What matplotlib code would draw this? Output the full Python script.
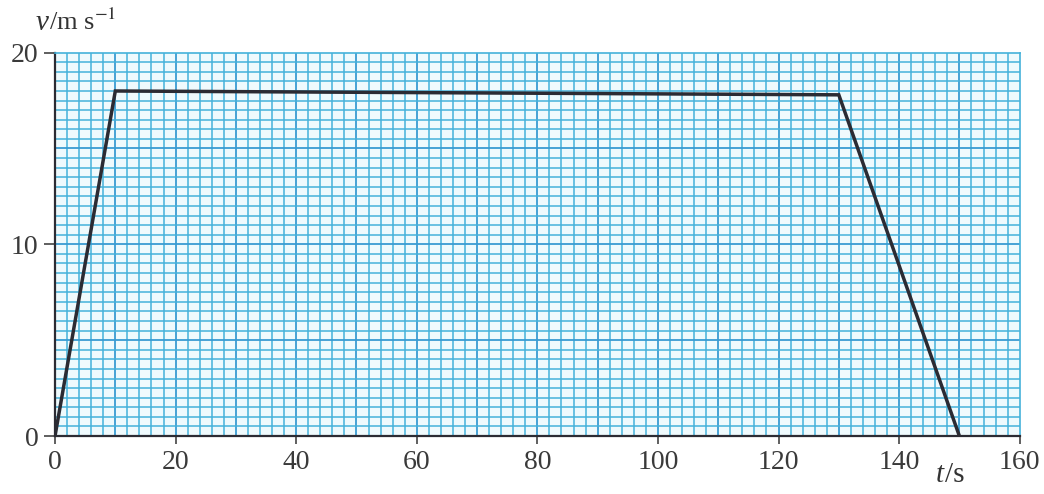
import numpy as np
import matplotlib.pyplot as plt

# velocity-time data
t_points = [0, 10, 130, 150]
v_points = [0, 18, 17.8, 0]

x_ticks = [0, 20, 40, 60, 80, 100, 120, 140, 160]
y_ticks = [0, 10, 20]

plt.rcParams['font.family'] = ['Liberation Serif', 'DejaVu Serif']
plt.rcParams['mathtext.fontset'] = 'stix'

fig = plt.figure(figsize=(10.44, 4.94), dpi=100)
ax = fig.add_axes([0.0527, 0.1174, 0.924, 0.776])

ax.set_xlim(0, 160)
ax.set_ylim(0, 20)
ax.set_facecolor('#effafd')

grid_col = '#45b2da'
major_col = '#3a9bd2'

# graph-paper grid: minor every 2 s / 0.5 m/s, major every 10 s / 5 m/s
for x in np.arange(2, 160, 2):
    if x % 10 == 0:
        ax.axvline(x, color=major_col, lw=1.3, zorder=1)
    else:
        ax.axvline(x, color=grid_col, lw=1.1, zorder=1)
for y in np.arange(0.5, 20, 0.5):
    if y % 5 == 0:
        ax.axhline(y, color=major_col, lw=1.3, zorder=1)
    else:
        ax.axhline(y, color=grid_col, lw=1.1, zorder=1)

ax.plot(t_points, v_points, color='#2b2b33', lw=2.5, zorder=3,
        solid_joinstyle='miter')

for side in ['top', 'right']:
    ax.spines[side].set_color(grid_col)
    ax.spines[side].set_linewidth(1.2)
for side in ['left', 'bottom']:
    ax.spines[side].set_color('#2b2b33')
    ax.spines[side].set_linewidth(1.6)

ax.set_xticks(x_ticks)
ax.set_yticks(y_ticks)
ax.tick_params(direction='out', length=8, width=1.2, color='#444444',
               labelsize=20, labelcolor='#3a3a3a', pad=4)
ax.tick_params(axis='x', length=6)

fig.text(0.034, 0.94, 'v', fontsize=21, color='#333333', style='italic')
fig.text(0.047, 0.94, '/m s$^{-1}$', fontsize=19, color='#333333')
fig.text(0.896, 0.025, 't', fontsize=21, color='#333333', style='italic')
fig.text(0.905, 0.025, '/s', fontsize=21, color='#333333')

fig.savefig('out.png', dpi=100, facecolor='white')
